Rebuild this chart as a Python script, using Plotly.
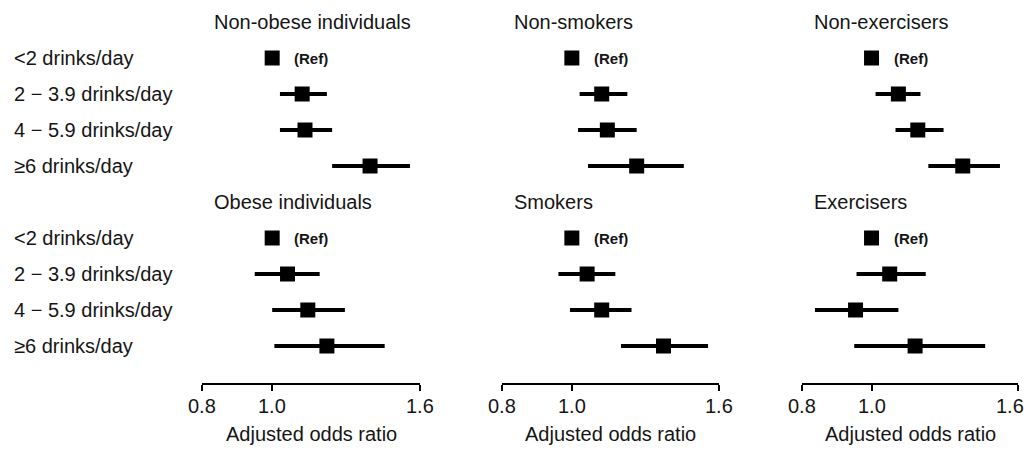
import math
import plotly.graph_objects as go

# ---------------- data ----------------
categories = ["<2 drinks/day", "2 \u2212 3.9 drinks/day", "4 \u2212 5.9 drinks/day", "\u22656 drinks/day"]

panel_titles = [
    ["Non-obese individuals", "Obese individuals"],
    ["Non-smokers", "Smokers"],
    ["Non-exercisers", "Exercisers"],
]

# odds ratios (first category is the reference)
non_obese_or = [1.00, 1.10, 1.11, 1.365]
non_obese_lo = [None, 1.025, 1.025, 1.21]
non_obese_hi = [None, 1.19, 1.21, 1.55]

obese_or = [1.00, 1.05, 1.12, 1.19]
obese_lo = [None, 0.946, 1.00, 1.007]
obese_hi = [None, 1.163, 1.26, 1.43]

non_smokers_or = [1.00, 1.10, 1.12, 1.23]
non_smokers_lo = [None, 1.025, 1.02, 1.053]
non_smokers_hi = [None, 1.194, 1.23, 1.43]

smokers_or = [1.00, 1.05, 1.10, 1.34]
smokers_lo = [None, 0.958, 0.994, 1.17]
smokers_hi = [None, 1.149, 1.21, 1.545]

non_exercisers_or = [1.00, 1.09, 1.16, 1.34]
non_exercisers_lo = [None, 1.013, 1.08, 1.20]
non_exercisers_hi = [None, 1.17, 1.26, 1.51]

exercisers_or = [1.00, 1.06, 0.95, 1.15]
exercisers_lo = [None, 0.953, 0.834, 0.946]
exercisers_hi = [None, 1.19, 1.09, 1.44]

tick_vals = [0.8, 1.0, 1.6]
tick_text = ["0.8", "1.0", "1.6"]
x_title = "Adjusted odds ratio"
ref_label = "(Ref)"

columns = [
    [(non_obese_or, non_obese_lo, non_obese_hi), (obese_or, obese_lo, obese_hi)],
    [(non_smokers_or, non_smokers_lo, non_smokers_hi), (smokers_or, smokers_lo, smokers_hi)],
    [(non_exercisers_or, non_exercisers_lo, non_exercisers_hi), (exercisers_or, exercisers_lo, exercisers_hi)],
]

# ---------------- layout geometry ----------------
OFF = 8  # page body margin compensation
W, H = 1035 - OFF, 449 - OFF
FONT = "Liberation Sans, Arial, Helvetica, sans-serif"
TXT = "#151515"
col_px = [(202 - OFF, 420 - OFF), (502 - OFF, 719 - OFF), (802 - OFF, 1018 - OFF)]
axis_line_px = 383 - OFF
row0_px, row_step = 22 - OFF, 36
label_x_px = 12 - OFF
tick_label_px = 406 - OFF
axis_title_px = 434 - OFF
edge_px = 1024 - OFF  # keep tick labels left of the visible right edge

y_top_val = -row0_px / row_step
y_bot_val = (axis_line_px - row0_px) / row_step

fig = go.Figure()
annotations = []

for ci, (groups, titles) in enumerate(zip(columns, panel_titles)):
    xa = "x" if ci == 0 else f"x{ci + 1}"
    for gi, ((ors, los, his), title) in enumerate(zip(groups, titles)):
        base = gi * (len(categories) + 1)
        title_row = base
        rows = [base + 1 + k for k in range(len(categories))]
        # CI lines
        lx, ly = [], []
        for r, lo, hi in zip(rows, los, his):
            if lo is None:
                continue
            lx += [lo, hi, None]
            ly += [r, r, None]
        fig.add_trace(go.Scatter(x=lx, y=ly, mode="lines", xaxis=xa, yaxis="y",
                                 line=dict(color="black", width=4), showlegend=False,
                                 hoverinfo="skip", cliponaxis=False))
        fig.add_trace(go.Scatter(x=ors, y=rows, mode="markers", xaxis=xa, yaxis="y",
                                 marker=dict(symbol="square", size=15, color="black",
                                             line=dict(width=0)),
                                 showlegend=False, cliponaxis=False))
        # panel title
        annotations.append(dict(text=title, xref="paper", yref="y",
                                x=(col_px[ci][0] + 10) / W, y=title_row,
                                xanchor="left", yanchor="middle", showarrow=False,
                                font=dict(size=20, family=FONT, color=TXT)))
        # ref label
        annotations.append(dict(text=ref_label, xref=xa, yref="y",
                                x=0, y=rows[0], xshift=20,
                                xanchor="left", yanchor="middle", showarrow=False,
                                font=dict(size=15, family=FONT, color=TXT, weight="bold")))
        # row labels (once, left side)
        if ci == 0:
            for r, cat in zip(rows, categories):
                annotations.append(dict(text=cat, xref="paper", yref="y",
                                        x=label_x_px / W, y=r, xanchor="left", yanchor="middle",
                                        showarrow=False,
                                        font=dict(size=20, family=FONT, color=TXT)))
    # tick labels (as annotations so none get dropped at the page edge)
    a_px, b_px = col_px[ci]
    lmin, lmax = math.log10(tick_vals[0]), math.log10(tick_vals[-1])
    for tv, tt in zip(tick_vals, tick_text):
        tick_px = a_px + (math.log10(tv) - lmin) / (lmax - lmin) * (b_px - a_px)
        half_w = 14
        shift = min(0, edge_px - (tick_px + half_w))
        annotations.append(dict(text=tt, xref=xa, yref="paper",
                                x=math.log10(tv), y=1 - tick_label_px / H, xshift=shift,
                                xanchor="center", yanchor="middle", showarrow=False,
                                font=dict(size=20, family=FONT, color=TXT)))
    # axis title
    annotations.append(dict(text=x_title, xref="paper", yref="paper",
                            x=(a_px + b_px) / 2 / W, y=1 - axis_title_px / H,
                            xanchor="center", yanchor="middle", showarrow=False,
                            font=dict(size=20, family=FONT, color=TXT)))

axis_common = dict(type="log", range=[math.log10(0.8), math.log10(1.6)],
                   showgrid=False, zeroline=False, showline=True, linecolor="black",
                   linewidth=1.5, ticks="outside", ticklen=6, tickwidth=1.5, tickcolor="black",
                   tickvals=tick_vals, showticklabels=False, anchor="y", automargin=False,
                   fixedrange=True)

layout = dict(
    template="none",
    width=W, height=H,
    margin=dict(l=0, r=0, t=0, b=0, pad=0, autoexpand=False),
    paper_bgcolor="white", plot_bgcolor="white",
    showlegend=False,
    yaxis=dict(domain=[1 - axis_line_px / H, 1], range=[y_bot_val, y_top_val],
               visible=False, fixedrange=True, automargin=False),
    annotations=annotations,
)
for ci, (a, b) in enumerate(col_px):
    key = "xaxis" if ci == 0 else f"xaxis{ci + 1}"
    layout[key] = dict(axis_common, domain=[a / W, b / W])

fig.update_layout(**layout)
fig.write_html("out.html")
